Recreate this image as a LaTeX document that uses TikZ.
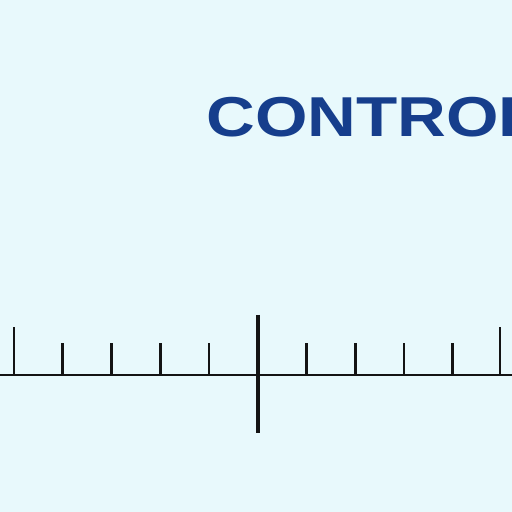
\documentclass[tikz,border=0pt]{standalone}
\usepackage{fontspec}
\setmainfont{Liberation Sans}
\usepackage{xcolor}
\usepackage{tikz}
\usetikzlibrary{positioning}
\definecolor{PaleCyan}{RGB}{232, 249, 252}
\definecolor{TitleBlue}{RGB}{22, 62, 140}
\definecolor{InkBlack}{RGB}{20, 20, 20}
\tikzset{
    axisline/.style={draw=InkBlack, line width=1.1pt},
    minortick/.style={draw=InkBlack, line width=1.7pt},
    centertick/.style={draw=InkBlack, line width=2.8pt}
}

\begin{document}
\begin{tikzpicture}
            \fill[PaleCyan] (0,0) rectangle (10.24,10.24);
            \useasboundingbox (0,0) rectangle (10.24,10.24);
            \clip (0,0) rectangle (10.24,10.24);
            \node[anchor=base west, inner sep=0pt, xscale=1.2, text=TitleBlue] (title) at (4.12,7.5) {\fontsize{32}{36}\selectfont\bfseries CONTROL};
            % scale line
            \coordinate (left) at (0,2.74);
            \coordinate (right) at (10.24,2.74);
            \draw[axisline] (left) -- (right);
            \foreach \i in {1,2,3,4,6,7,8,9} {
                \draw[minortick] (0.28+\i*0.975,2.74) -- ++(0,0.64);
            }
            \draw[minortick] (0.28,2.74) -- ++(0,0.96);
            \draw[minortick] (10.0,2.74) -- ++(0,0.96);
            \draw[centertick] (5.16,3.94) -- (5.16,1.58);
        \end{tikzpicture}
\end{document}
